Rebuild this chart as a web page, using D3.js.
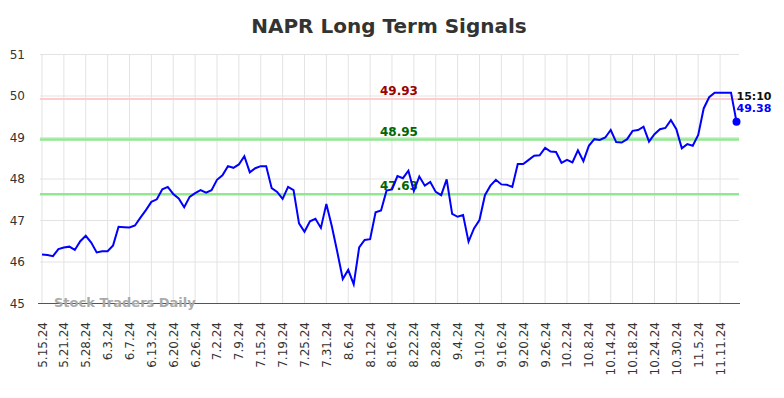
<!DOCTYPE html>
<html><head><meta charset="utf-8">
<script src="https://cdn.jsdelivr.net/npm/d3@7"></script>
<style>body{margin:0;background:#fff;} svg{display:block;font-family:"DejaVu Sans",sans-serif;}</style>
</head><body><svg id="c" width="784" height="398"></svg>
<script>
const title = "NAPR Long Term Signals";
const tickLabels = ["5.15.24","5.21.24","5.28.24","6.3.24","6.7.24","6.13.24","6.20.24","6.26.24","7.2.24","7.9.24","7.15.24","7.19.24","7.25.24","7.31.24","8.6.24","8.12.24","8.16.24","8.22.24","8.28.24","9.4.24","9.10.24","9.16.24","9.20.24","9.26.24","10.2.24","10.8.24","10.14.24","10.18.24","10.24.24","10.30.24","11.5.24","11.11.24"];
const tickEvery = 4;
const prices = [46.18,46.17,46.14,46.31,46.35,46.37,46.29,46.50,46.63,46.47,
46.23,46.26,46.26,46.40,46.85,46.84,46.83,46.88,47.07,47.25,
47.45,47.51,47.75,47.81,47.64,47.53,47.32,47.57,47.66,47.73,
47.67,47.73,47.98,48.09,48.31,48.27,48.35,48.55,48.16,48.26,
48.31,48.31,47.78,47.69,47.52,47.81,47.73,46.93,46.73,46.98,
47.04,46.82,47.40,46.86,46.24,45.59,45.81,45.46,46.35,46.53,
46.55,47.20,47.24,47.72,47.75,48.07,48.02,48.20,47.71,48.06,
47.84,47.93,47.69,47.61,47.99,47.16,47.09,47.13,46.49,46.81,
47.01,47.61,47.84,47.98,47.87,47.86,47.81,48.36,48.36,48.46,
48.56,48.57,48.75,48.66,48.65,48.39,48.46,48.40,48.69,48.43,
48.80,48.96,48.94,49.00,49.18,48.89,48.88,48.96,49.16,49.18,
49.26,48.90,49.08,49.20,49.23,49.42,49.20,48.74,48.84,48.80,
49.06,49.70,49.97,50.08,50.08,50.08,50.08,49.38];
const yTicks = [45,46,47,48,49,50,51];
const signalValues = [49.93, 48.95, 47.63];
const signalKinds = ["red","green","green"];
const lastTime = "15:10";
const watermark = "Stock Traders Daily";

const svg = d3.select("#c");
const L = 40, R = 739, T = 54.5, B = 303.5;
const x = d3.scaleLinear().domain([0, prices.length - 1]).range([42, 736.5]);
const y = d3.scaleLinear().domain([45, 51]).range([B, T]);

svg.append("text").attr("x", 389).attr("y", 33).attr("text-anchor","middle")
  .attr("font-size", 20).attr("font-weight","bold").attr("fill","#333").text(title);

// horizontal grid
svg.append("g").selectAll("line").data(yTicks).join("line")
  .attr("x1", L).attr("x2", R).attr("y1", d=>y(d)).attr("y2", d=>y(d))
  .attr("stroke", "#e3e3e3").attr("stroke-width", 1);
// vertical grid
const tickIdx = tickLabels.map((_, i) => i * tickEvery);
svg.append("g").selectAll("line").data(tickIdx).join("line")
  .attr("x1", d=>x(d)).attr("x2", d=>x(d)).attr("y1", T).attr("y2", B)
  .attr("stroke", "#e3e3e3").attr("stroke-width", 1);

// y labels
svg.append("g").selectAll("text").data(yTicks).join("text")
  .attr("x", 25).attr("y", d=>y(d)+4).attr("text-anchor","end")
  .attr("font-size", 12).attr("fill","#333").text(d=>d);

// x labels
svg.append("g").selectAll("text").data(tickLabels).join("text")
  .attr("transform", (d,i)=>`translate(${x(i*tickEvery)+4.5},322) rotate(-90)`)
  .attr("text-anchor","end").attr("font-size", 12).attr("fill","#333").text(d=>d);

// bottom axis line
svg.append("line").attr("x1", 38).attr("x2", R+1).attr("y1", B).attr("y2", B)
  .attr("stroke", "#555").attr("stroke-width", 1.2);

// watermark
svg.append("text").attr("x", 54).attr("y", 307).attr("font-size", 13).attr("font-weight","bold")
  .attr("fill","#aaa").text(watermark);

// signal lines
const sigColor = {red:"#ffcccc", green:"#90e890"};
const sigText = {red:"#990000", green:"#006600"};
svg.append("g").selectAll("line").data(signalValues).join("line")
  .attr("x1", L).attr("x2", R).attr("y1", d=>y(d)).attr("y2", d=>y(d))
  .attr("stroke", (d,i)=>sigColor[signalKinds[i]]).attr("stroke-width", (d,i)=>signalKinds[i]==="red"?2:2.5);
svg.append("g").selectAll("text").data(signalValues).join("text")
  .attr("x", 380).attr("y", d=>y(d)-4)
  .attr("font-size", 12).attr("font-weight","bold")
  .attr("fill", (d,i)=>sigText[signalKinds[i]]).text(d=>d.toFixed(2));

// price line
svg.append("path").datum(prices)
  .attr("d", d3.line().x((d,i)=>x(i)).y(d=>y(d)))
  .attr("fill","none").attr("stroke","#0000ff").attr("stroke-width", 2);

const li = prices.length - 1;
svg.append("circle").attr("cx", x(li)).attr("cy", y(prices[li])).attr("r", 4).attr("fill","#0000ff");
svg.append("text").attr("x", x(li)).attr("y", 99.5).attr("font-size", 11).attr("font-weight","bold")
  .attr("fill","#111").text(lastTime);
svg.append("text").attr("x", x(li)).attr("y", 112).attr("font-size", 11).attr("font-weight","bold")
  .attr("fill","#0000ff").text(prices[li].toFixed(2));
</script></body></html>
